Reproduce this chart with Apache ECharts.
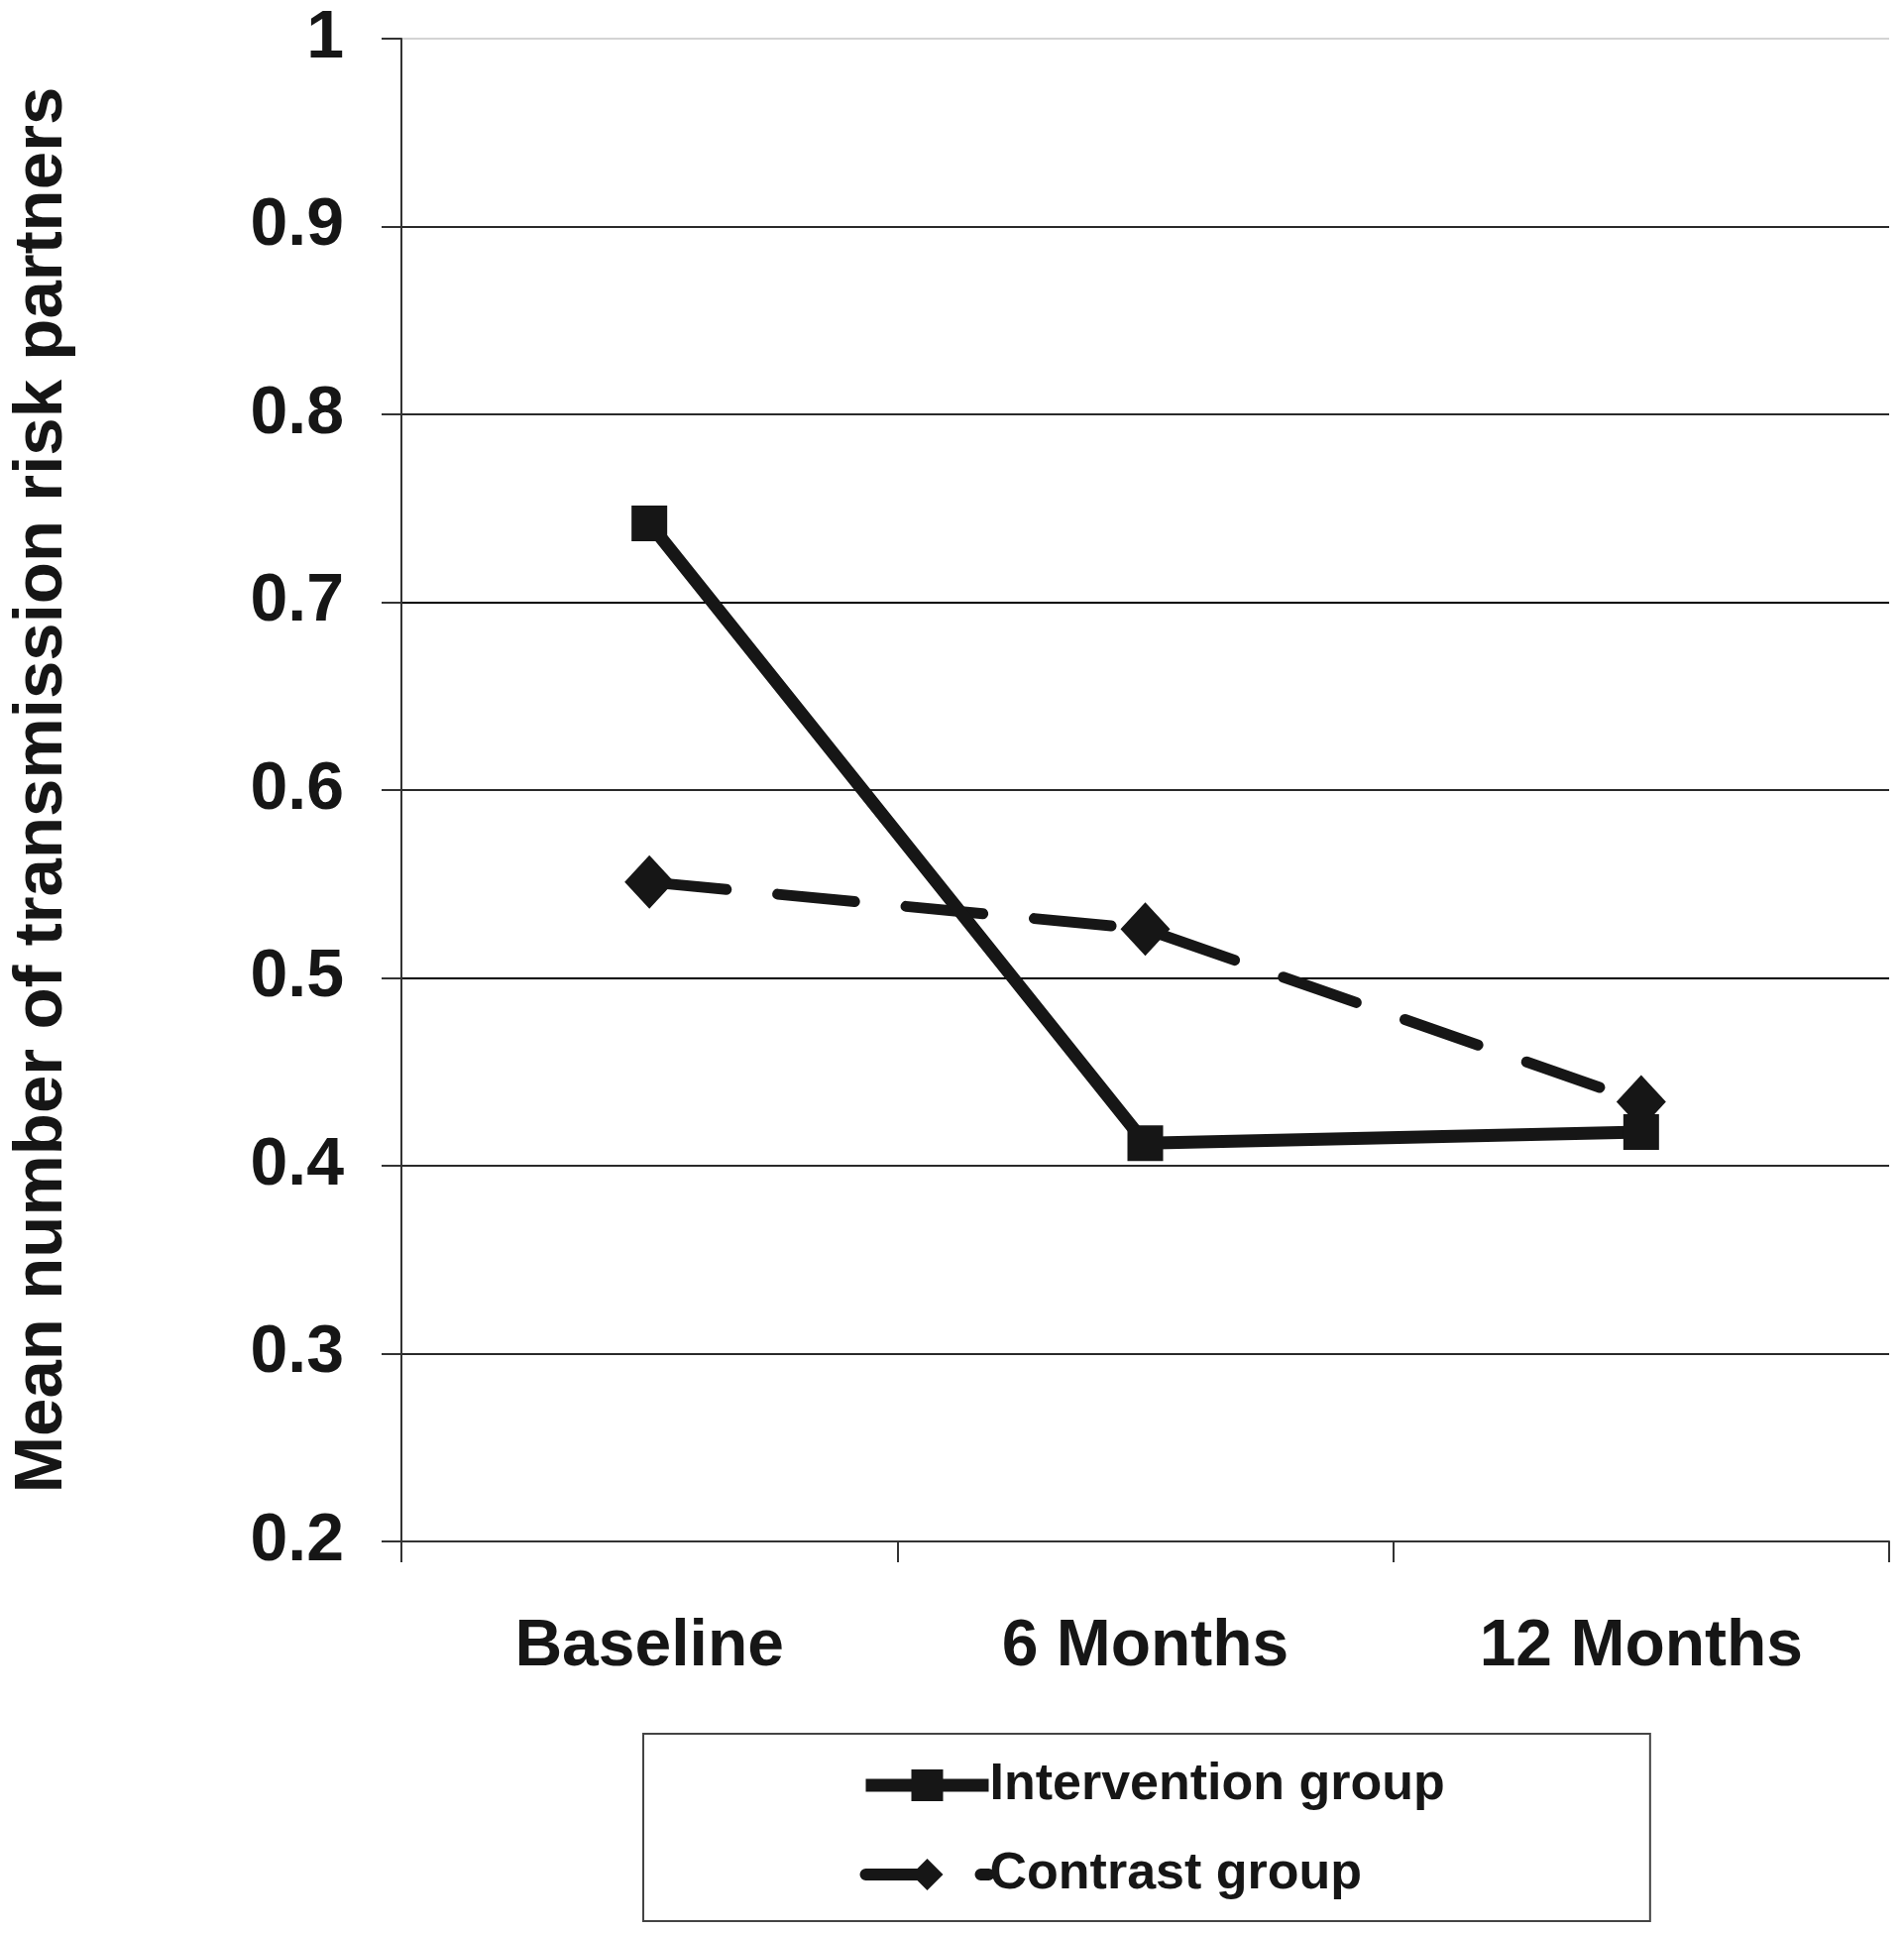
<!DOCTYPE html>
<html>
<head>
<meta charset="utf-8">
<script src="https://cdn.jsdelivr.net/npm/echarts@6/dist/echarts.min.js"></script>
<style>
html,body{margin:0;padding:0;background:#fff;}
#chart{width:1921px;height:1950px;}
</style>
</head>
<body>
<div id="chart"></div>
<script>
const categories = ['Baseline', '6 Months', '12 Months'];
const interventionValues = [0.742, 0.412, 0.418];
const contrastValues = [0.551, 0.526, 0.434];
const seriesNames = ['Intervention group', 'Contrast group'];
const yTicks = { min: 0.2, max: 1, interval: 0.1 };
const yAxisTitle = 'Mean number of transmission risk partners';

const ink = '#161616';
const font = '"Liberation Sans", Arial, sans-serif';

const chart = echarts.init(document.getElementById('chart'), null, { renderer: 'canvas' });

const gridColors = ['#222', '#2a2a2a', '#2a2a2a', '#000', '#2a2a2a', '#000', '#2a2a2a', '#2a2a2a', '#d4d4d4'];

chart.setOption({
  backgroundColor: '#ffffff',
  animation: false,
  grid: { left: 404, right: 15, top: 39, bottom: 395, containLabel: false },
  xAxis: {
    type: 'category',
    data: categories,
    boundaryGap: true,
    axisLine: { show: true, lineStyle: { color: '#333', width: 2 } },
    axisTick: { show: true, alignWithLabel: false, length: 21, lineStyle: { color: '#333', width: 2 } },
    axisLabel: { color: ink, fontFamily: font, fontWeight: 'bold', fontSize: 66, lineHeight: 66, margin: 74 },
    splitLine: { show: false }
  },
  yAxis: {
    type: 'value',
    min: yTicks.min,
    max: yTicks.max,
    interval: yTicks.interval,
    name: yAxisTitle,
    nameLocation: 'middle',
    nameRotate: 90,
    nameGap: 328,
    nameTextStyle: { color: ink, fontFamily: font, fontWeight: 'bold', fontSize: 69 },
    axisLine: { show: true, lineStyle: { color: '#333', width: 2 } },
    axisTick: { show: true, length: 20, lineStyle: { color: '#333', width: 2 } },
    axisLabel: {
      color: ink, fontFamily: font, fontWeight: 'bold', fontSize: 68, margin: 58,
      formatter: function (v) { return Math.abs(v - 1) < 1e-9 ? '1' : v.toFixed(1); }
    },
    splitLine: { show: true, lineStyle: { color: gridColors, width: 2 } }
  },
  legend: {
    orient: 'vertical',
    left: 649,
    top: 1749,
    padding: [24, 207, 19, 218],
    itemGap: 34,
    itemWidth: 124,
    itemHeight: 40,
    borderColor: '#444',
    borderWidth: 2,
    backgroundColor: '#fff',
    textStyle: { color: ink, fontFamily: font, fontWeight: 'bold', fontSize: 52, lineHeight: 56, padding: [0, 0, 0, -4] },
    data: [
      { name: seriesNames[0], lineStyle: { width: 13, color: ink, type: 'solid' } },
      { name: seriesNames[1], lineStyle: { width: 12, color: ink, type: [66, 50], cap: 'round' } }
    ]
  },
  series: [
    {
      name: seriesNames[0],
      type: 'line',
      data: interventionValues,
      symbol: 'rect',
      symbolSize: 36,
      itemStyle: { color: ink },
      lineStyle: { color: ink, width: 13, type: 'solid' },
      z: 3
    },
    {
      name: seriesNames[1],
      type: 'line',
      data: contrastValues,
      symbol: 'diamond',
      symbolSize: [50, 54],
      itemStyle: { color: ink },
      lineStyle: { color: ink, width: 11, type: [78, 52], cap: 'round' },
      z: 2
    }
  ]
});
</script>
</body>
</html>
